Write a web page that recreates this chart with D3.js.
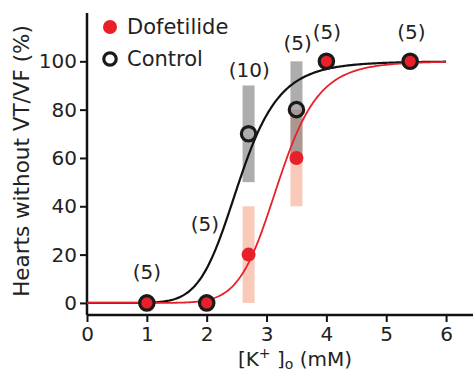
<!DOCTYPE html>
<html>
<head>
<meta charset="utf-8">
<script src="https://cdn.jsdelivr.net/npm/d3@7"></script>
<style>
  body { margin: 0; background: #fff; }
  text { font-family: "DejaVu Sans", sans-serif; fill: #222; }
</style>
</head>
<body>
<div id="chart"></div>
<script>
// measured points
const potassium = [1, 2, 2.7, 3.5, 4, 5.4];
const dofetilide = [0, 0, 20, 60, 100, 100];
const dofetilideErr = [0, 0, 20, 20, 0, 0];
const control = [0, 0, 70, 80, 100, 100];
const controlErr = [0, 0, 20, 20, 0, 0];
const nLabels = ["(5)", "(5)", "(10)", "(5)", "(5)", "(5)"];
const nLabelX = [1, 1.97, 2.71, 3.52, 4.01, 5.42];
const nLabelY = [13, 32.5, 96.5, 107.5, 112, 112];

// Hill fits (K50, slope)
const controlFit = [2.54, 7.5];
const dofetilideFit = [3.2, 9.5];

const xTicks = [0, 1, 2, 3, 4, 5, 6];
const yTicks = [0, 20, 40, 60, 80, 100];

const width = 473, height = 371;
const fontSize = 20;
const red = "#e8202a";

const svg = d3.select("#chart").append("svg")
  .attr("width", width).attr("height", height);

const x = d3.scaleLinear().domain([0, 6.45]).range([87, 473]);
const y = d3.scaleLinear().domain([-5, 120]).range([315, 13]);

// error bars
const barW = 12;
svg.append("g").selectAll("rect")
  .data(potassium.map((k, i) => ({ k, v: dofetilide[i], e: dofetilideErr[i] })).filter(d => d.e > 0))
  .join("rect")
  .attr("x", d => x(d.k) - barW / 2)
  .attr("width", barW)
  .attr("y", d => y(d.v + d.e))
  .attr("height", d => y(d.v - d.e) - y(d.v + d.e))
  .attr("fill", "#f9c9b9");

svg.append("g").selectAll("rect")
  .data(potassium.map((k, i) => ({ k, v: control[i], e: controlErr[i] })).filter(d => d.e > 0))
  .join("rect")
  .attr("x", d => x(d.k) - barW / 2)
  .attr("width", barW)
  .attr("y", d => y(d.v + d.e))
  .attr("height", d => y(d.v - d.e) - y(d.v + d.e))
  .attr("fill", "#777")
  .attr("opacity", 0.6);

// axes
const yAxis = svg.append("g")
  .attr("transform", "translate(" + x(0) + ",0)")
  .call(d3.axisLeft(y).tickValues(yTicks).tickSize(7).tickPadding(3));
const xAxis = svg.append("g")
  .attr("transform", "translate(0," + y(-5) + ")")
  .call(d3.axisBottom(x).tickValues(xTicks).tickFormat(d3.format("d")).tickSize(7).tickPadding(5));

[xAxis, yAxis].forEach(function (a) {
  a.select(".domain").attr("stroke", "#111").attr("stroke-width", 2.5);
  a.selectAll(".tick line").attr("stroke", "#111").attr("stroke-width", 2);
  a.selectAll(".tick text")
    .attr("font-size", fontSize)
    .attr("font-family", "DejaVu Sans")
    .attr("fill", "#333");
});
yAxis.select(".domain").attr("d", "M0," + y(-5) + "V" + 13);
xAxis.select(".domain").attr("d", "M" + x(0) + ",0H" + width);

// fitted curves
function hill(fit) {
  return d3.range(0, 6.001, 0.02).map(k => [k, 100 / (1 + Math.pow(fit[0] / Math.max(k, 1e-6), fit[1]))]);
}
const line = d3.line().x(d => x(d[0])).y(d => y(d[1]));

svg.append("path").datum(hill(controlFit))
  .attr("d", line).attr("fill", "none")
  .attr("stroke", "#111").attr("stroke-width", 2.2);
svg.append("path").datum(hill(dofetilideFit))
  .attr("d", line).attr("fill", "none")
  .attr("stroke", red).attr("stroke-width", 1.8);

// points
svg.append("g").selectAll("circle")
  .data(potassium.map((k, i) => [k, dofetilide[i]]))
  .join("circle")
  .attr("cx", d => x(d[0])).attr("cy", d => y(d[1]))
  .attr("r", 7).attr("fill", red);

svg.append("g").selectAll("circle")
  .data(potassium.map((k, i) => [k, control[i]]))
  .join("circle")
  .attr("cx", d => x(d[0])).attr("cy", d => y(d[1]))
  .attr("r", 7.2).attr("fill", "none")
  .attr("stroke", "#1a1a1a").attr("stroke-width", 3.2);

// n labels
svg.append("g").selectAll("text")
  .data(nLabels)
  .join("text")
  .attr("x", (d, i) => x(nLabelX[i]))
  .attr("y", (d, i) => y(nLabelY[i]))
  .attr("dy", "0.35em")
  .attr("text-anchor", "middle")
  .attr("font-size", fontSize)
  .text(d => d);

// legend
const legend = svg.append("g");
legend.append("circle").attr("cx", 110).attr("cy", 27).attr("r", 7).attr("fill", red);
legend.append("text").attr("x", 127).attr("y", 27).attr("dy", "0.35em")
  .attr("font-size", 21).text("Dofetilide");
legend.append("circle").attr("cx", 110).attr("cy", 59).attr("r", 6.2)
  .attr("fill", "none").attr("stroke", "#1a1a1a").attr("stroke-width", 3.2);
legend.append("text").attr("x", 127).attr("y", 59).attr("dy", "0.35em")
  .attr("font-size", 21).text("Control");

// axis titles
svg.append("text")
  .attr("transform", "translate(29,161) rotate(-90)")
  .attr("text-anchor", "middle")
  .attr("font-size", 21.5)
  .text("Hearts without VT/VF (%)");

const xt = svg.append("text")
  .attr("x", 295).attr("y", 366)
  .attr("text-anchor", "middle")
  .attr("font-size", 20);
xt.append("tspan").text("[K");
xt.append("tspan").attr("dy", -8).attr("font-size", 14).text("+");
xt.append("tspan").attr("dy", 8).text(" ]");
xt.append("tspan").attr("dy", 3).attr("font-size", 14).text("o");
xt.append("tspan").attr("dy", -3).text(" (mM)");
</script>
</body>
</html>
